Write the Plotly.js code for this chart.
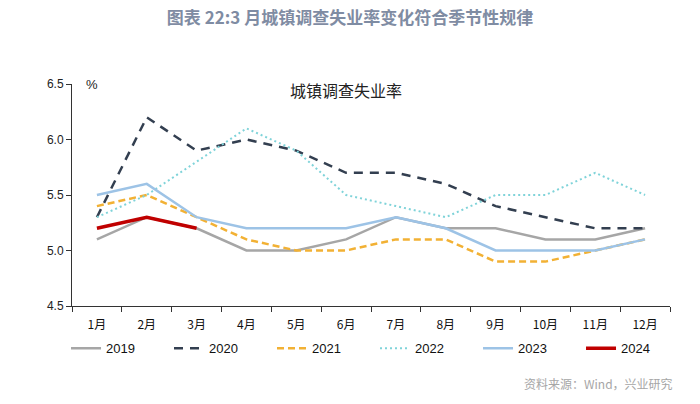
<!DOCTYPE html>
<html><head><meta charset="utf-8">
<script src="https://cdn.plot.ly/plotly-3.0.1.min.js"></script>
<style>html,body{margin:0;padding:0;background:#fff}#chart{width:700px;height:404px}</style>
</head><body><div id="chart"></div>
<script>
const months = ['1月','2月','3月','4月','5月','6月','7月','8月','9月','10月','11月','12月'];
const y2019 = [5.1,5.3,5.2,5.0,5.0,5.1,5.3,5.2,5.2,5.1,5.1,5.2];
const y2020 = [5.3,6.2,5.9,6.0,5.9,5.7,5.7,5.6,5.4,5.3,5.2,5.2];
const y2021 = [5.4,5.5,5.3,5.1,5.0,5.0,5.1,5.1,4.9,4.9,5.0,5.1];
const y2022 = [5.3,5.5,5.8,6.1,5.9,5.5,5.4,5.3,5.5,5.5,5.7,5.5];
const y2023 = [5.5,5.6,5.3,5.2,5.2,5.2,5.3,5.2,5.0,5.0,5.0,5.1];
const y2024 = [5.2,5.3,5.2];
const seriesNames = ['2019','2020','2021','2022','2023','2024'];

const styles = [
  {color:'#A6A6A6', width:2.5, dash:'solid'},
  {color:'#333F50', width:2.5, dash:'9px,7px'},
  {color:'#F2B134', width:2.5, dash:'7px,4px'},
  {color:'#7FD3D9', width:2, dash:'2px,3px'},
  {color:'#9DC3E6', width:2.5, dash:'solid'},
  {color:'#C00000', width:3.5, dash:'solid'}
];
const data = [y2019,y2020,y2021,y2022,y2023,y2024].map((ys,i)=>({
  type:'scatter', mode:'lines', name:seriesNames[i],
  x: months.slice(0, ys.length), y: ys,
  line: styles[i]
}));

const layout = {
  width:700, height:404,
  margin:{l:72, r:30, t:84, b:98},
  paper_bgcolor:'#fff', plot_bgcolor:'#fff',
  font:{family:'"Noto Sans CJK SC", "Liberation Sans", sans-serif', color:'#222', size:12},
  title:{text:'<b>图表 22:3 月城镇调查失业率变化符合季节性规律</b>', x:0.5, xanchor:'center', y:0.955, yanchor:'middle',
    font:{size:17, color:'#7F8CA3', family:'"Noto Sans CJK SC", sans-serif'}},
  xaxis:{type:'category', categoryorder:'array', categoryarray:months, range:[-0.5,11.5],
    showline:true, linecolor:'#333', linewidth:1, ticks:'outside', ticklen:5, tickcolor:'#333',
    tickson:'boundaries', showgrid:false, zeroline:false, ticklabelstandoff:8,
    tickfont:{size:12, family:'"Noto Sans CJK SC", sans-serif', color:'#111'}},
  yaxis:{range:[4.5,6.5], dtick:0.5, tick0:4.5, tickformat:'.1f', showline:true, linecolor:'#333', linewidth:1,
    ticks:'outside', ticklen:5, tickcolor:'#333', showgrid:false, zeroline:false,
    tickfont:{size:12, family:'"Liberation Sans", sans-serif', color:'#222'}},
  showlegend:true,
  legend:{orientation:'h', x:-0.01, xanchor:'left', y:-0.19, yanchor:'middle', entrywidth:58, entrywidthmode:'pixels',
    font:{size:13, family:'"Liberation Sans Narrow", "Liberation Sans", sans-serif', color:'#111'}, bgcolor:'rgba(0,0,0,0)', tracegroupgap:0},
  annotations:[
    {text:'%', xref:'paper', yref:'paper', x:(92-72)/598, y:1.0, xanchor:'center', yanchor:'middle', showarrow:false,
      font:{size:13, color:'#222', family:'"Liberation Sans", sans-serif'}},
    {text:'城镇调查失业率', xref:'paper', yref:'paper', x:(346-72)/598, y:(306-90)/222, xanchor:'center', yanchor:'middle', showarrow:false,
      font:{size:16, color:'#222', family:'"Noto Sans CJK SC", sans-serif'}},
    {text:'资料来源：Wind，兴业研究', xref:'paper', yref:'paper', x:(675-72)/598, y:-(383-306)/222, xanchor:'right', yanchor:'middle', showarrow:false,
      font:{size:12, color:'#A6A6A6', family:'"Noto Sans CJK SC", sans-serif'}}
  ]
};
Plotly.newPlot('chart', data, layout, {displayModeBar:false, staticPlot:true});
</script></body></html>
